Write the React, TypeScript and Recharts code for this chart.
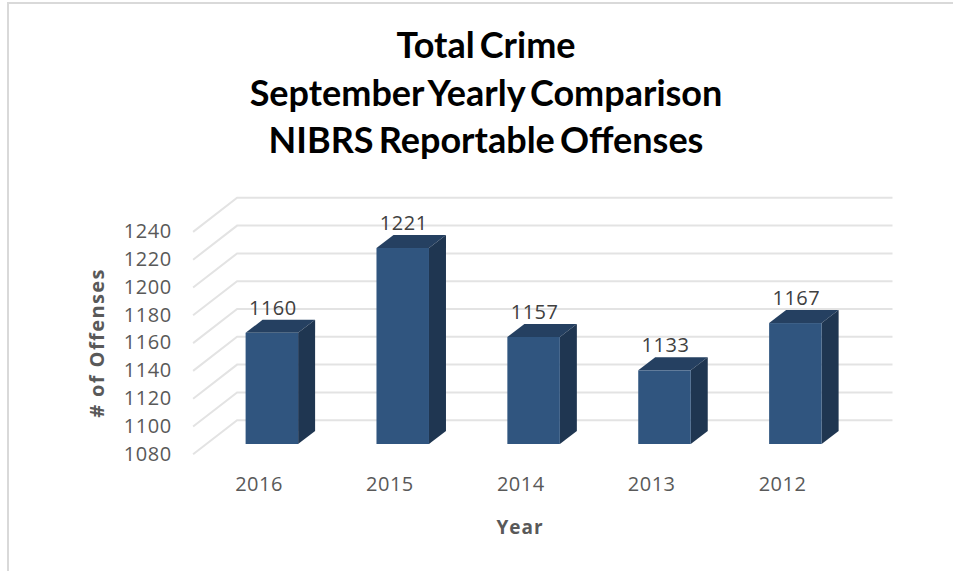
import { BarChart, Bar, XAxis, YAxis, CartesianGrid, LabelList } from "recharts"

const years = ["2016", "2015", "2014", "2013", "2012"]
const offenses = [1160, 1221, 1157, 1133, 1167]
const yTicks = [1080, 1100, 1120, 1140, 1160, 1180, 1200, 1220, 1240]
const titleLines = ["Total Crime", "September Yearly Comparison", "NIBRS Reportable Offenses"]

const data = years.map((year, index) => ({ year, offenses: offenses[index] }))

const FONT = "'Open Sans', sans-serif"

// fake 3D box, the library hands us the front face
function Box3D({ x, y, width, height }: any) {
  const dx = 17
  const dy = 13
  return (
    <g>
      <polygon
        points={`${x},${y} ${x + dx},${y - dy} ${x + width + dx},${y - dy} ${x + width},${y}`}
        fill="#254061"
      />
      <polygon
        points={`${x + width},${y} ${x + width + dx},${y - dy} ${x + width + dx},${y + height - dy} ${x + width},${y + height}`}
        fill="#1f3651"
      />
      <rect x={x} y={y} width={width} height={height} fill="#30557f" />
    </g>
  )
}

// floor side + back wall part of each grid line
function GridLine3D({ x1, x2, y1 }: any) {
  return (
    <polyline
      key={y1}
      points={`${x1 - 13.5},${y1 + 10.3} ${x1 + 30.5},${y1 - 23.8} ${x2 + 31.5},${y1 - 23.8}`}
      fill="none"
      stroke="#e3e3e3"
      strokeWidth={2}
    />
  )
}

function YTick({ x, y, payload }: any) {
  return (
    <text x={x - 27} y={y + 16.5} textAnchor="end" fontFamily={FONT} fontSize={20} letterSpacing={0.5} fill="#595959">
      {payload.value}
    </text>
  )
}

function XTick({ x, y, payload }: any) {
  return (
    <text x={x - 13} y={y + 39} textAnchor="middle" fontFamily={FONT} fontSize={20} letterSpacing={0.5} fill="#595959">
      {payload.value}
    </text>
  )
}

function BarValue({ x, y, width, value }: any) {
  return (
    <text x={x + width / 2 + 1} y={y - 18} textAnchor="middle" fontFamily={FONT} fontSize={20} letterSpacing={0.5} fill="#404040">
      {value}
    </text>
  )
}

export default function App() {
  return (
    <div style={{ position: "absolute", left: 0, top: 0, width: 953, height: 571, background: "#fff" }}>
      <div style={{ position: "absolute", left: 7, top: 2, bottom: 0, width: 2, background: "#d9d9d9" }} />
      <div style={{ position: "absolute", left: 7, top: 2, right: 0, height: 2, background: "#d9d9d9" }} />
      <div
        style={{
          position: "absolute",
          left: 0,
          top: 21,
          width: 972,
          textAlign: "center",
          fontFamily: "Lato, sans-serif",
          fontWeight: 700,
          fontSize: 36,
          lineHeight: "47.5px",
          color: "#000",
          wordSpacing: -3.5,
        }}
      >
        {titleLines.map((line) => (
          <div key={line}>{line}</div>
        ))}
      </div>
      <BarChart
        width={953}
        height={571}
        data={data}
        margin={{ top: 221.6, right: 92, bottom: 87, left: 146.6 }}
        style={{ position: "absolute", left: 0, top: 0 }}
      >
        <CartesianGrid vertical={false} horizontal={(p: any) => <GridLine3D {...p} />} />
        <XAxis
          dataKey="year"
          height={40}
          axisLine={false}
          tickLine={false}
          tick={<XTick />}
          label={{
            content: () => (
              <text x={520} y={534} textAnchor="middle" fontFamily={FONT} fontWeight={700} fontSize={19} letterSpacing={1} fill="#595959">
                Year
              </text>
            ),
          }}
        />
        <YAxis
          width={60}
          domain={[1080, 1240]}
          ticks={yTicks}
          interval={0}
          axisLine={false}
          tickLine={false}
          tick={<YTick />}
          label={{
            content: () => (
              <text
                transform="translate(104,343) rotate(-90)"
                textAnchor="middle"
                fontFamily={FONT}
                fontWeight={700}
                fontSize={20}
                letterSpacing={1.4}
                fill="#595959"
              >
                # of Offenses
              </text>
            ),
          }}
        />
        <Bar dataKey="offenses" barSize={52.5} shape={<Box3D />} isAnimationActive={false}>
          <LabelList dataKey="offenses" content={<BarValue />} />
        </Bar>
      </BarChart>
    </div>
  )
}
